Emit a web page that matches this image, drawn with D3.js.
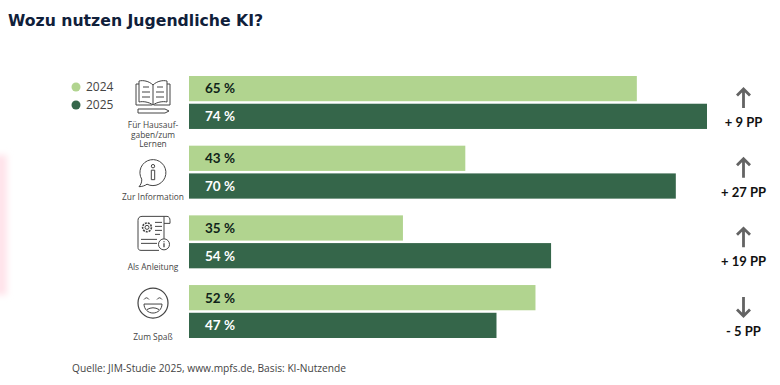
<!DOCTYPE html>
<html lang="de">
<head>
<meta charset="utf-8">
<title>Wozu nutzen Jugendliche KI?</title>
<script src="https://cdn.jsdelivr.net/npm/d3@7"></script>
<style>
  html, body { margin: 0; padding: 0; background: #fff; }
  svg { display: block; }
</style>
</head>
<body>
<div id="chart"></div>
<script>
// chart data
var categories = ['hausaufgaben', 'information', 'anleitung', 'spass'];
var categoryLabels = [['Für Hausauf-', 'gaben/zum', 'Lernen'], ['Zur Information'], ['Als Anleitung'], ['Zum Spaß']];
var seriesNames = ['2024', '2025'];
var values2024 = [65, 43, 35, 52];
var values2025 = [74, 70, 54, 47];
var changeLabels = ['+ 9 PP', '+ 27 PP', '+ 19 PP', '- 5 PP'];
var titleText = 'Wozu nutzen Jugendliche KI?';
var sourceText = 'Quelle: JIM-Studie 2025, www.mpfs.de, Basis: KI-Nutzende';

var attrs = {
  svgWidth: 780,
  svgHeight: 385,
  light: '#b1d48f',
  dark: '#35664a',
  ink: '#444444',
  labelFont: '"Open Sans", sans-serif',
  barFont: 'Lato, sans-serif'
};

var svg = d3.select('#chart').append('svg')
  .attr('width', attrs.svgWidth)
  .attr('height', attrs.svgHeight);

// pale smudge on the left edge of the source image
var defs = svg.append('defs');
defs.append('filter').attr('id', 'smudge')
  .attr('x', '-100%').attr('width', '300%')
  .attr('y', '-20%').attr('height', '140%')
  .append('feGaussianBlur').attr('stdDeviation', 3);

svg.append('rect')
  .attr('x', -10).attr('y', 155)
  .attr('width', 17).attr('height', 140)
  .attr('fill', '#ffe3ea')
  .attr('filter', 'url(#smudge)');

//##########################  SCALES  #####################
// the bars of the source do not start at zero
var x = d3.scaleLinear().domain([7.56, 74]).range([189, 707]);
var y = d3.scaleBand().domain(categories).range([76, 338]).paddingInner(0.24);
var ySeries = d3.scaleBand().domain(seriesNames).range([0, y.bandwidth()]).paddingInner(0.09);

var rows = categories.map(function (c, i) {
  return {
    key: c,
    label: categoryLabels[i],
    change: changeLabels[i],
    bars: [
      { series: '2024', value: values2024[i] },
      { series: '2025', value: values2025[i] }
    ]
  };
});

//#######################  DRAWING ######################
svg.append('text')
  .attr('x', 8).attr('y', 26)
  .attr('font-family', '"DejaVu Sans", sans-serif')
  .attr('font-weight', 700)
  .attr('font-size', 15.7)
  .attr('fill', '#10203a')
  .text(titleText);

var row = svg.selectAll('.row').data(rows).enter().append('g')
  .attr('class', 'row')
  .attr('transform', function (d) { return 'translate(0,' + y(d.key) + ')'; });

// bars
var bar = row.selectAll('.bar').data(function (d) { return d.bars; }).enter().append('g')
  .attr('class', 'bar')
  .attr('transform', function (d) { return 'translate(0,' + ySeries(d.series) + ')'; });

bar.append('rect')
  .attr('x', x.range()[0])
  .attr('width', function (d) { return x(d.value) - x.range()[0]; })
  .attr('height', ySeries.bandwidth())
  .attr('fill', function (d) { return d.series === '2024' ? attrs.light : attrs.dark; });

bar.append('text')
  .attr('x', 205)
  .attr('y', ySeries.bandwidth() / 2)
  .attr('dy', '0.36em')
  .attr('font-family', attrs.barFont)
  .attr('font-weight', 700)
  .attr('font-size', 13.5)
  .attr('fill', function (d) { return d.series === '2024' ? '#10241a' : '#ffffff'; })
  .text(function (d) { return d.value + ' %'; });

// category labels, the block sits above the band bottom like in the source
row.append('g')
  .attr('class', 'category-label')
  .each(function (d) {
    var offset = d.label.length > 1 ? 52 : 54.5;
    var lines = d.label;
    d3.select(this).selectAll('text').data(lines).enter().append('text')
      .attr('x', 153)
      .attr('y', function (l, i) { return offset + i * 9.5; })
      .attr('text-anchor', 'middle')
      .attr('font-family', attrs.labelFont)
      .attr('font-size', 8.4)
      .attr('fill', attrs.ink)
      .text(function (l) { return l; });
  });

// change arrows and labels
var change = row.append('g').attr('class', 'change');

change.append('path')
  .attr('transform', function (d) {
    var down = d.change.charAt(0) === '-';
    return 'translate(743.5,22)' + (down ? ' scale(1,-1)' : '');
  })
  .attr('d', 'M0,10V-9M-6.5,-2.5L0,-9L6.5,-2.5')
  .attr('fill', 'none')
  .attr('stroke', '#636363')
  .attr('stroke-width', 2.8);

change.append('text')
  .attr('x', 743.5)
  .attr('y', 51)
  .attr('text-anchor', 'middle')
  .attr('font-family', attrs.barFont)
  .attr('font-weight', 700)
  .attr('font-size', 13)
  .attr('fill', '#111')
  .text(function (d) { return d.change; });

// icons
var icon = row.append('g')
  .attr('class', 'icon')
  .attr('transform', 'translate(153,0)')
  .attr('fill', 'none')
  .attr('stroke', attrs.ink)
  .attr('stroke-width', 1);

icon.filter(function (d) { return d.key === 'hausaufgaben'; }).call(function (g) {
  g.append('path').attr('d', 'M0,9C-4,5 -10,4 -14,5V26C-10,25 -4,26 0,29C4,26 10,25 14,26V5C10,4 4,5 0,9V29');
  g.append('path').attr('d', 'M-14,8H-17V29H-1M14,8H17V29H1');
  g.append('path').attr('d', 'M-10,11H-4M-11,16H-3M-11,21H-3M4,11H10M3,16H11M3,21H11');
  g.append('path').attr('d', 'M-15,33H12L16,35L12,37H-15Z');
});

icon.filter(function (d) { return d.key === 'information'; }).call(function (g) {
  g.append('path').attr('d', 'M-11.3,33.5A13,13 0 1 1 -6,38.5C-8,40 -11,41 -14,41C-12,39 -11,36 -11.3,33.5Z');
  g.append('circle').attr('cx', 0).attr('cy', 20.5).attr('r', 1.7);
  g.append('path').attr('d', 'M-1.7,24.5H1.7V34H-1.7Z');
});

icon.filter(function (d) { return d.key === 'anleitung'; }).call(function (g) {
  g.append('path').attr('d', 'M-11,1H11V26M-11,1C-14,1 -15,3 -15,5V32C-15,34 -14,35 -12,35H6');
  g.append('path').attr('d', 'M11,1H14C16,1 17,3 17,5V8H11');
  g.append('circle').attr('cx', -6).attr('cy', 12).attr('r', 2);
  g.append('circle').attr('cx', -6).attr('cy', 12).attr('r', 4.4).attr('stroke-dasharray', '2 1').attr('stroke-width', 1.6);
  g.append('path').attr('d', 'M2,7H9M2,11H9M2,15H9M2,19H7M-12,24H4M-12,28H4');
  g.append('circle').attr('cx', 11).attr('cy', 29).attr('r', 5.5).attr('fill', '#fff');
  g.append('path').attr('d', 'M11,28V32M11,26V27').attr('stroke-width', 1.3);
});

icon.filter(function (d) { return d.key === 'spass'; }).call(function (g) {
  g.append('circle').attr('cx', 0).attr('cy', 18).attr('r', 15).attr('stroke-width', 1.2);
  g.append('path').attr('d', 'M-9,14.5Q-6.5,11 -4,14.5M4,14.5Q6.5,11 9,14.5');
  g.append('path').attr('d', 'M-9,19H9C9,24 5,28 0,28C-5,28 -9,24 -9,19Z');
  g.append('path').attr('d', 'M-6,24.5Q0,21 6,24.5');
});

// legend
var legend = svg.selectAll('.legend').data(seriesNames).enter().append('g')
  .attr('class', 'legend')
  .attr('transform', function (d, i) { return 'translate(76,' + (87 + i * 18) + ')'; });

legend.append('circle')
  .attr('r', 4.5)
  .attr('fill', function (d) { return d === '2024' ? attrs.light : attrs.dark; });

legend.append('text')
  .attr('x', 10)
  .attr('dy', '0.36em')
  .attr('font-family', attrs.labelFont)
  .attr('font-size', 12)
  .attr('fill', attrs.ink)
  .text(function (d) { return d; });

// source line
svg.append('text')
  .attr('x', 72).attr('y', 372)
  .attr('font-family', attrs.labelFont)
  .attr('font-size', 10.2)
  .attr('fill', attrs.ink)
  .text(sourceText);
</script>
</body>
</html>
